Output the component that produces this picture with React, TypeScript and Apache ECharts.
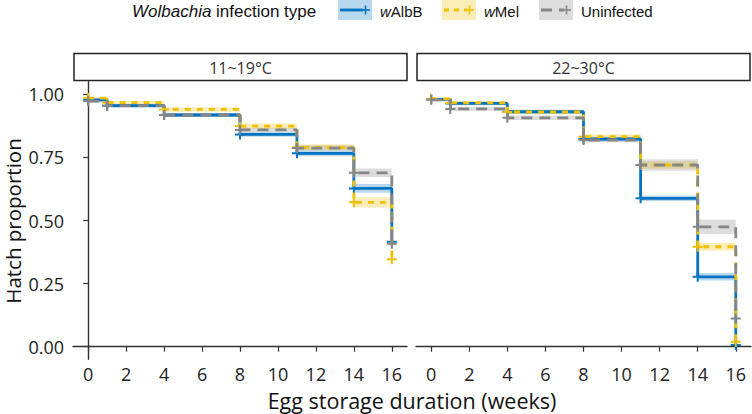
import React, { useEffect, useRef } from "react";
import * as echarts from "echarts";

// ---- data ----
const weeks = [0, 1, 4, 8, 11, 14, 16];
const panelLabels = ["11~19°C", "22~30°C"];
const groupNames = ["wAlbB", "wMel", "Uninfected"];
const xTicks = [0, 2, 4, 6, 8, 10, 12, 14, 16];
const yTicks = [0, 0.25, 0.5, 0.75, 1];

// 11~19°C
const coolAlbB = [0.978, 0.955, 0.918, 0.841, 0.766, 0.627, 0.416];
const coolAlbBLo = [0.972, 0.948, 0.91, 0.832, 0.755, 0.61, 0.4];
const coolAlbBHi = [0.984, 0.962, 0.926, 0.85, 0.777, 0.645, 0.43];
const coolMel = [0.985, 0.967, 0.94, 0.874, 0.79, 0.572, 0.346];
const coolMelLo = [0.98, 0.96, 0.931, 0.864, 0.778, 0.552, 0.32];
const coolMelHi = [0.99, 0.974, 0.949, 0.884, 0.802, 0.592, 0.37];
const coolUninf = [0.973, 0.955, 0.918, 0.859, 0.787, 0.689, 0.408];
const coolUninfLo = [0.967, 0.948, 0.91, 0.85, 0.776, 0.672, 0.39];
const coolUninfHi = [0.979, 0.962, 0.926, 0.868, 0.798, 0.706, 0.43];

// 22~30°C
const warmAlbB = [0.98, 0.964, 0.931, 0.823, 0.588, 0.277, 0.007];
const warmAlbBLo = [0.975, 0.957, 0.923, 0.814, 0.577, 0.262, 0];
const warmAlbBHi = [0.985, 0.971, 0.939, 0.832, 0.599, 0.292, 0.015];
const warmMel = [0.982, 0.966, 0.93, 0.832, 0.72, 0.396, 0.02];
const warmMelLo = [0.977, 0.959, 0.921, 0.822, 0.705, 0.38, 0.01];
const warmMelHi = [0.987, 0.973, 0.939, 0.842, 0.735, 0.412, 0.03];
const warmUninf = [0.978, 0.942, 0.907, 0.819, 0.72, 0.475, 0.112];
const warmUninfLo = [0.972, 0.934, 0.898, 0.81, 0.697, 0.447, 0.09];
const warmUninfHi = [0.984, 0.95, 0.916, 0.828, 0.743, 0.503, 0.135];

// ---- styles ----
const COLORS = ["#0073C2", "#EFC000", "#868686"];
const DASHES: any[] = ["solid", [6, 6], [11, 7]];
const PLUS = "path://M0,4H10V6H0ZM4,0H6V10H4Z";
const TICK_FONT = "Open Sans";
const LEG_FONT = "Liberation Sans";

const panelData = [
  [
    [coolAlbB, coolAlbBLo, coolAlbBHi],
    [coolMel, coolMelLo, coolMelHi],
    [coolUninf, coolUninfLo, coolUninfHi],
  ],
  [
    [warmAlbB, warmAlbBLo, warmAlbBHi],
    [warmMel, warmMelLo, warmMelHi],
    [warmUninf, warmUninfLo, warmUninfHi],
  ],
];

const grids = [
  { left: 73, top: 81.7, width: 334, height: 277.6 },
  { left: 416, top: 81.7, width: 335, height: 277.6 },
];

function buildOption() {
  const series: any[] = [];
  panelData.forEach((groups, p) => {
    groups.forEach(([surv, lo, hi], g) => {
      const rib = weeks.slice(0, -1).map((w, i) => [w, weeks[i + 1], lo[i], hi[i]]);
      series.push({
        type: "custom",
        name: groupNames[g] + " CI",
        xAxisIndex: p,
        yAxisIndex: p,
        z: 1,
        silent: true,
        data: rib,
        encode: { x: [0, 1], y: [2, 3] },
        renderItem: (params: any, api: any) => {
          const a = api.coord([api.value(0), api.value(3)]);
          const b = api.coord([api.value(1), api.value(2)]);
          return {
            type: "rect",
            shape: { x: a[0], y: a[1], width: b[0] - a[0], height: b[1] - a[1] },
            style: { fill: COLORS[g], opacity: 0.28 },
          };
        },
      });
    });
    groups.forEach(([surv], g) => {
      series.push({
        type: "line",
        name: groupNames[g],
        xAxisIndex: p,
        yAxisIndex: p,
        step: "end",
        z: 3 + g,
        data: weeks.map((w, i) => [w, surv[i]]),
        symbol: PLUS,
        symbolSize: 10,
        showSymbol: true,
        itemStyle: { color: COLORS[g] },
        lineStyle: { color: COLORS[g], width: 2.8, type: DASHES[g] },
        emphasis: { disabled: true },
      });
    });
  });

  const xAxis = grids.map((_, p) => ({
    type: "value",
    gridIndex: p,
    min: -0.8,
    max: 16.8,
    splitLine: { show: false },
    axisLine: { show: true, lineStyle: { color: "#333", width: 1.4 } },
    axisTick: { show: true, customValues: xTicks, length: 5, lineStyle: { color: "#333", width: 1.2 } },
    axisLabel: {
      customValues: xTicks,
      color: "#222",
      fontFamily: TICK_FONT,
      fontSize: 18,
      margin: 6,
    },
  }));
  const yAxis = grids.map((_, p) => ({
    type: "value",
    gridIndex: p,
    min: -0.05,
    max: 1.05,
    splitLine: { show: false },
    axisLine: { show: p === 0, lineStyle: { color: "#333", width: 1.4 } },
    axisTick: { show: p === 0, customValues: yTicks, length: 5, lineStyle: { color: "#333", width: 1.2 } },
    axisLabel: {
      show: p === 0,
      customValues: yTicks,
      formatter: (v: number) => v.toFixed(2),
      color: "#222",
      fontFamily: TICK_FONT,
      fontSize: 18,
      margin: 9,
    },
  }));

  const graphic: any[] = [];
  // facet strips
  const strips = [
    { x: 74, w: 333 },
    { x: 417, w: 333 },
  ];
  strips.forEach((s, i) => {
    graphic.push({
      type: "rect",
      shape: { x: s.x, y: 53.5, width: s.w, height: 27 },
      style: { fill: "#fff", stroke: "#222", lineWidth: 1.5 },
    });
    graphic.push({
      type: "text",
      x: s.x + s.w / 2,
      y: 67.5,
      style: {
        text: panelLabels[i],
        align: "center",
        verticalAlign: "middle",
        fontFamily: TICK_FONT,
        fontSize: 16,
        fill: "#333",
      },
    });
  });
  // axis titles
  graphic.push({
    type: "text",
    x: 412,
    y: 400,
    style: {
      text: "Egg storage duration (weeks)",
      align: "center",
      verticalAlign: "middle",
      fontFamily: TICK_FONT,
      fontSize: 21.5,
      fill: "#111",
    },
  });
  graphic.push({
    type: "text",
    x: 13,
    y: 221,
    rotation: Math.PI / 2,
    style: {
      text: "Hatch proportion",
      align: "center",
      verticalAlign: "middle",
      fontFamily: TICK_FONT,
      fontSize: 20.5,
      fill: "#111",
    },
  });
  // legend
  graphic.push({
    type: "text",
    x: 132,
    y: 11,
    style: {
      text: "{i|Wolbachia} infection type",
      verticalAlign: "middle",
      fontFamily: LEG_FONT,
      fontSize: 17,
      fill: "#111",
      rich: { i: { fontStyle: "italic", fontFamily: LEG_FONT, fontSize: 17, fill: "#111" } },
    },
  });
  const keyX = [338, 442, 539];
  const labelRich = ["{i|w}AlbB", "{i|w}Mel", "Uninfected"];
  keyX.forEach((kx, g) => {
    graphic.push({
      type: "rect",
      shape: { x: kx, y: 0, width: 34, height: 20 },
      style: { fill: COLORS[g], opacity: 0.28 },
    });
    graphic.push({
      type: "line",
      shape: { x1: kx + 2, y1: 10, x2: kx + 25, y2: 10 },
      style: {
        stroke: COLORS[g],
        lineWidth: 2.8,
        lineDash: g === 0 ? null : g === 1 ? [5, 5] : [11, 7],
      },
    });
    graphic.push({
      type: "line",
      shape: { x1: kx + 23, y1: 10, x2: kx + 32, y2: 10 },
      style: { stroke: COLORS[g], lineWidth: 1.6 },
    });
    graphic.push({
      type: "line",
      shape: { x1: kx + 27.5, y1: 5.5, x2: kx + 27.5, y2: 14.5 },
      style: { stroke: COLORS[g], lineWidth: 1.6 },
    });
    graphic.push({
      type: "text",
      x: kx + 42,
      y: 11,
      style: {
        text: labelRich[g],
        verticalAlign: "middle",
        fontFamily: LEG_FONT,
        fontSize: 15,
        fill: "#111",
        rich: { i: { fontStyle: "italic", fontFamily: LEG_FONT, fontSize: 15, fill: "#111" } },
      },
    });
  });

  return {
    animation: false,
    backgroundColor: "#fff",
    grid: grids,
    xAxis,
    yAxis,
    series,
    graphic,
  };
}

export default function App() {
  const ref = useRef<HTMLDivElement>(null);
  useEffect(() => {
    if (!ref.current) return;
    const chart = echarts.init(ref.current, undefined, { renderer: "svg" });
    chart.setOption(buildOption() as any);
    return () => chart.dispose();
  }, []);
  return (
    <div
      ref={ref}
      style={{ width: 752, height: 414, position: "absolute", left: 0, top: 0 }}
    />
  );
}
